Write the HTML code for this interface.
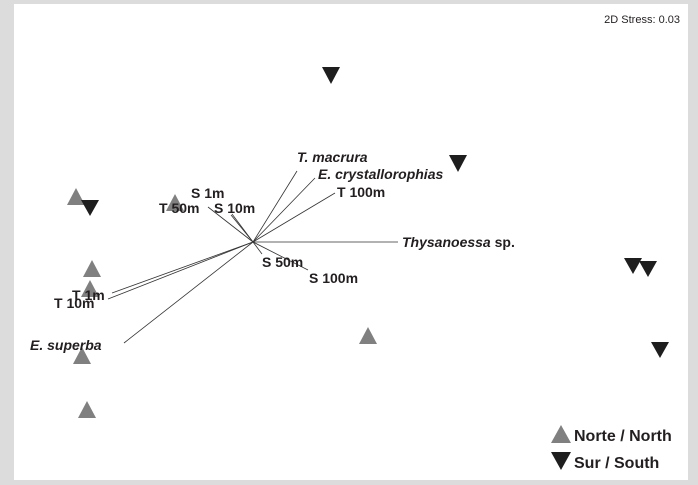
<!DOCTYPE html>
<html><head><style>
body{margin:0;background:#fff}
svg{display:block}
text{font-family:"Liberation Sans",Arial,sans-serif;font-weight:bold;font-size:14px;fill:#231f20}
.i{font-style:italic}
</style></head><body>
<svg width="698" height="485" viewBox="0 0 698 485">
<rect width="698" height="485" fill="#dcdcdd"/>
<rect x="14" y="4" width="674" height="476" fill="#fff"/>
<text x="680" y="23" text-anchor="end" style="font-weight:normal;font-size:11px">2D Stress: 0.03</text>
<g stroke="#333" stroke-width="0.8">
<line x1="253" y1="242" x2="297" y2="171"/>
<line x1="253" y1="242" x2="315" y2="178"/>
<line x1="253" y1="242" x2="335" y2="193"/>
<line x1="253" y1="242" x2="398" y2="242"/>
<line x1="253" y1="242" x2="262" y2="254"/>
<line x1="253" y1="242" x2="308" y2="270"/>
<line x1="253" y1="242" x2="232" y2="214"/>
<line x1="253" y1="242" x2="231" y2="215"/>
<line x1="253" y1="242" x2="208" y2="207"/>
<line x1="253" y1="242" x2="112" y2="293"/>
<line x1="253" y1="242" x2="108" y2="299"/>
<line x1="253" y1="242" x2="124" y2="343"/>
</g>
<g fill="#808080">
<polygon points="67,205 76,188 85,205"/>
<polygon points="166,211 175,194 184,211"/>
<polygon points="83,277 92,260 101,277"/>
<polygon points="81,297 90,280 99,297"/>
<polygon points="73,364 82,347 91,364"/>
<polygon points="78,418 87,401 96,418"/>
<polygon points="359,344 368,327 377,344"/>
<polygon points="551,443 561,425 571,443"/>
</g>
<g fill="#1e1e1e">
<polygon points="322,67 340,67 331,84"/>
<polygon points="449,155 467,155 458,172"/>
<polygon points="81,200 99,200 90,216"/>
<polygon points="624,258 642,258 633,274"/>
<polygon points="639,261 657,261 648,277"/>
<polygon points="651,342 669,342 660,358"/>
<polygon points="551,452 571,452 561,470"/>
</g>
<text x="297" y="162" class="i">T. macrura</text>
<text x="318" y="179" class="i">E. crystallorophias</text>
<text x="337" y="197">T 100m</text>
<text x="402" y="247"><tspan class="i">Thysanoessa</tspan> sp.</text>
<text x="262" y="267">S 50m</text>
<text x="309" y="283">S 100m</text>
<text x="191" y="198">S 1m</text>
<text x="159" y="213">T 50m</text>
<text x="214" y="213">S 10m</text>
<text x="72" y="300">T 1m</text>
<text x="54" y="308">T 10m</text>
<text x="30" y="350" class="i">E. superba</text>
<text x="574" y="441" style="font-size:16px">Norte / North</text>
<text x="574" y="468" style="font-size:16px">Sur / South</text>
</svg>
</body></html>
